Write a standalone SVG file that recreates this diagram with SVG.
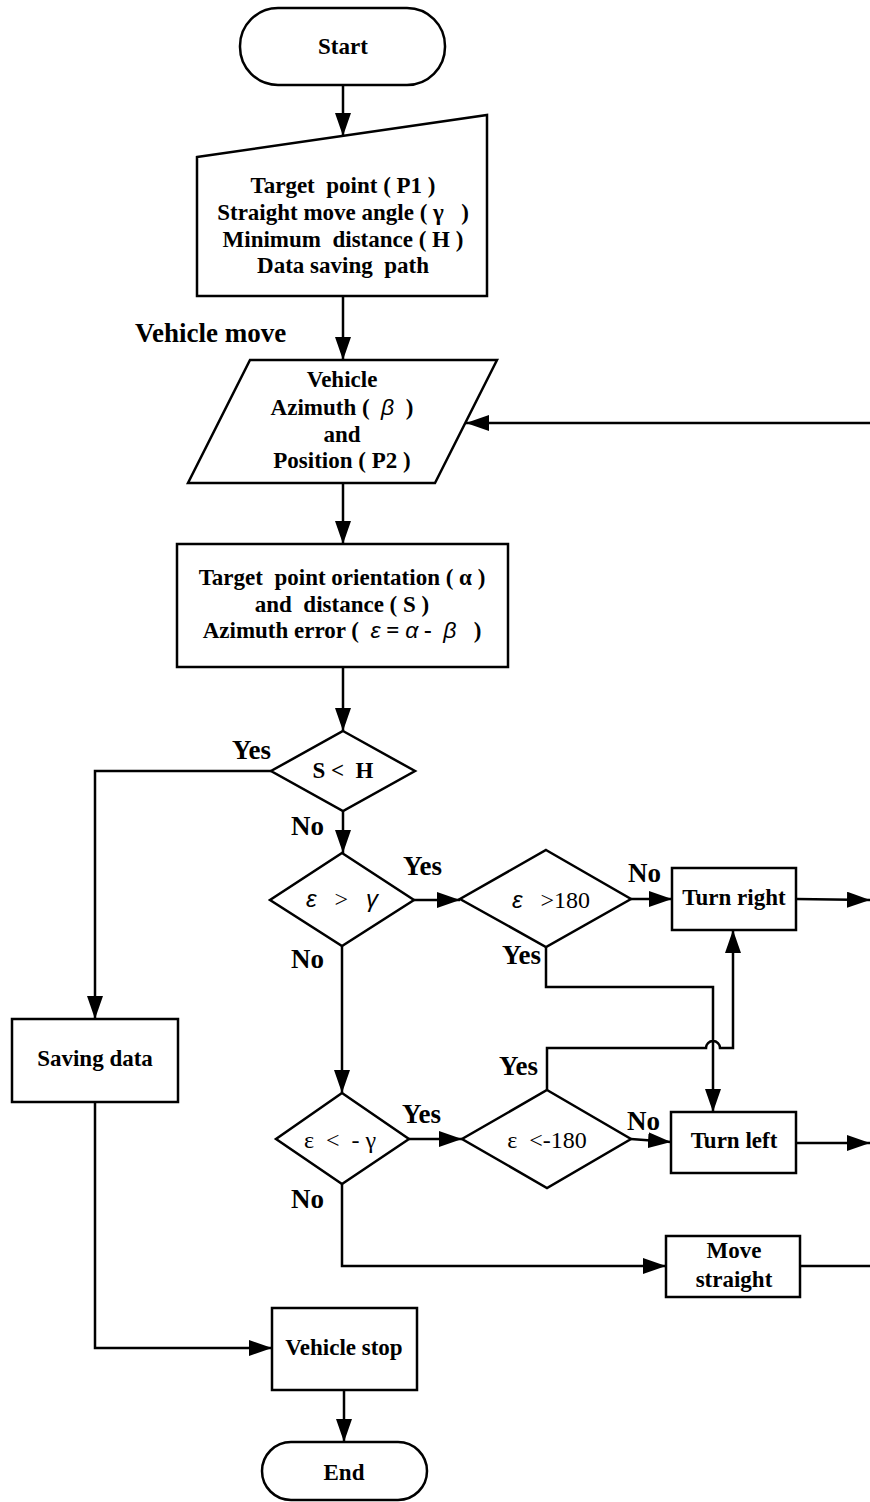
<svg xmlns="http://www.w3.org/2000/svg" width="870" height="1502" viewBox="0 0 870 1502">
<style>
text{white-space:pre}
.s{fill:#fff;stroke:#000;stroke-width:2.5}
.c{fill:none;stroke:#000;stroke-width:2.5}
.t{font-family:"Liberation Serif","Times New Roman",serif;font-weight:bold;font-size:23px;text-anchor:middle;fill:#000}
.r{font-family:"Liberation Serif","Times New Roman",serif;font-size:24px;text-anchor:middle;fill:#000}
.l{font-family:"Liberation Serif","Times New Roman",serif;font-weight:bold;font-size:27px;fill:#000}
.g{font-family:"Liberation Sans",Arial,sans-serif;font-style:italic;font-weight:normal}
</style>
<defs>
<marker id="a" viewBox="0 0 23 16" refX="23" refY="8" markerWidth="23" markerHeight="16" markerUnits="userSpaceOnUse" orient="auto">
<path d="M0,0 L23,8 L0,16 z" fill="#000"/>
</marker>
</defs>

<g id="connectors">
<path class="c" d="M343,85 V136" marker-end="url(#a)"/>
<path class="c" d="M343,296 V360" marker-end="url(#a)"/>
<path class="c" d="M870,423 H466" marker-end="url(#a)"/>
<path class="c" d="M343,483 V544" marker-end="url(#a)"/>
<path class="c" d="M343,667 V731" marker-end="url(#a)"/>
<path class="c" d="M271,771 H95 V1019" marker-end="url(#a)"/>
<path class="c" d="M343,811 V853" marker-end="url(#a)"/>
<path class="c" d="M414,900 H460" marker-end="url(#a)"/>
<path class="c" d="M631,899 H672" marker-end="url(#a)"/>
<path class="c" d="M796,899 L870,900" marker-end="url(#a)"/>
<path class="c" d="M546,947 V987 H713 V1112" marker-end="url(#a)"/>
<path class="c" d="M342,946 V1093" marker-end="url(#a)"/>
<path class="c" d="M409,1139 H462" marker-end="url(#a)"/>
<path class="c" d="M547,1090 V1048 H706 A7,7 0 0 1 720,1048 H733 V930" marker-end="url(#a)"/>
<path class="c" d="M631,1139 L671,1142" marker-end="url(#a)"/>
<path class="c" d="M796,1143 H870" marker-end="url(#a)"/>
<path class="c" d="M342,1184 V1266 H666" marker-end="url(#a)"/>
<path class="c" d="M792,1266 H870"/>
<path class="c" d="M95,1102 V1348 H272" marker-end="url(#a)"/>
<path class="c" d="M344,1390 V1442" marker-end="url(#a)"/>
</g>

<g id="start">
<rect class="s" x="240" y="8" width="205" height="77" rx="38" ry="38"/>
<text class="t" x="343" y="54">Start</text>
</g>

<g id="input">
<path class="s" d="M197,157 L487,115 L487,296 L197,296 Z"/>
<text class="t" x="343" y="193">Target  point ( P1 )</text>
<text class="t" x="343" y="220">Straight move angle ( γ   )</text>
<text class="t" x="343" y="247">Minimum  distance ( H )</text>
<text class="t" x="343" y="273">Data saving  path</text>
</g>

<g id="label-vehicle-move">
<text class="l" x="135" y="342">Vehicle move</text>
</g>

<g id="vehicle-data">
<path class="s" d="M250,360 L497,360 L435,483 L188,483 Z"/>
<text class="t" x="342" y="387">Vehicle</text>
<text class="t" x="342" y="415">Azimuth (  <tspan class="g">β</tspan>  )</text>
<text class="t" x="342" y="442">and</text>
<text class="t" x="342" y="468">Position ( P2 )</text>
</g>

<g id="compute">
<rect class="s" x="177" y="544" width="331" height="123"/>
<text class="t" x="342" y="585">Target  point orientation ( α )</text>
<text class="t" x="342" y="612">and  distance ( S )</text>
<text class="t" x="342" y="638">Azimuth error (  <tspan class="g">ε</tspan> = <tspan class="g">α</tspan> -  <tspan class="g">β</tspan>   )</text>
</g>

<g id="d-s-h">
<path class="s" d="M343,731 L415,771 L343,811 L271,771 Z"/>
<text class="t" x="343" y="778">S &lt;  H</text>
</g>
<g id="labels">
<text class="l" x="232" y="759">Yes</text>
<text class="l" x="291" y="835">No</text>
<text class="l" x="403" y="875">Yes</text>
<text class="l" x="628" y="882">No</text>
<text class="l" x="502" y="964">Yes</text>
<text class="l" x="291" y="968">No</text>
<text class="l" x="499" y="1075">Yes</text>
<text class="l" x="402" y="1123">Yes</text>
<text class="l" x="627" y="1130">No</text>
<text class="l" x="291" y="1208">No</text>
</g>

<g id="d-eps-gt-gamma">
<path class="s" d="M342,853 L414,900 L342,946 L270,900 Z"/>
<text class="r" x="342" y="907"><tspan class="g">ε</tspan>   &gt;   <tspan class="g">γ</tspan></text>
</g>

<g id="d-eps-gt-180">
<path class="s" d="M546,850 L631,899 L546,947 L460,899 Z"/>
<text class="r" x="551" y="908"><tspan class="g">ε</tspan>   &gt;180</text>
</g>

<g id="turn-right">
<rect class="s" x="672" y="868" width="124" height="62"/>
<text class="t" x="734" y="905">Turn right</text>
</g>

<g id="saving-data">
<rect class="s" x="12" y="1019" width="166" height="83"/>
<text class="t" x="95" y="1066">Saving data</text>
</g>

<g id="d-eps-lt-gamma">
<path class="s" d="M342,1093 L409,1139 L342,1184 L276,1139 Z"/>
<text class="r" x="340" y="1148">ε  &lt;  - γ</text>
</g>

<g id="d-eps-lt-180">
<path class="s" d="M547,1090 L631,1139 L547,1188 L462,1139 Z"/>
<text class="r" x="547" y="1148">ε  &lt;-180</text>
</g>

<g id="turn-left">
<rect class="s" x="671" y="1112" width="125" height="61"/>
<text class="t" x="734" y="1148">Turn left</text>
</g>

<g id="move-straight">
<rect class="s" x="666" y="1236" width="134" height="61"/>
<text class="t" x="734" y="1258">Move</text>
<text class="t" x="734" y="1287">straight</text>
</g>

<g id="vehicle-stop">
<rect class="s" x="272" y="1308" width="145" height="82"/>
<text class="t" x="344" y="1355">Vehicle stop</text>
</g>

<g id="end">
<rect class="s" x="262" y="1442" width="165" height="58" rx="29" ry="29"/>
<text class="t" x="344" y="1480">End</text>
</g>
</svg>
